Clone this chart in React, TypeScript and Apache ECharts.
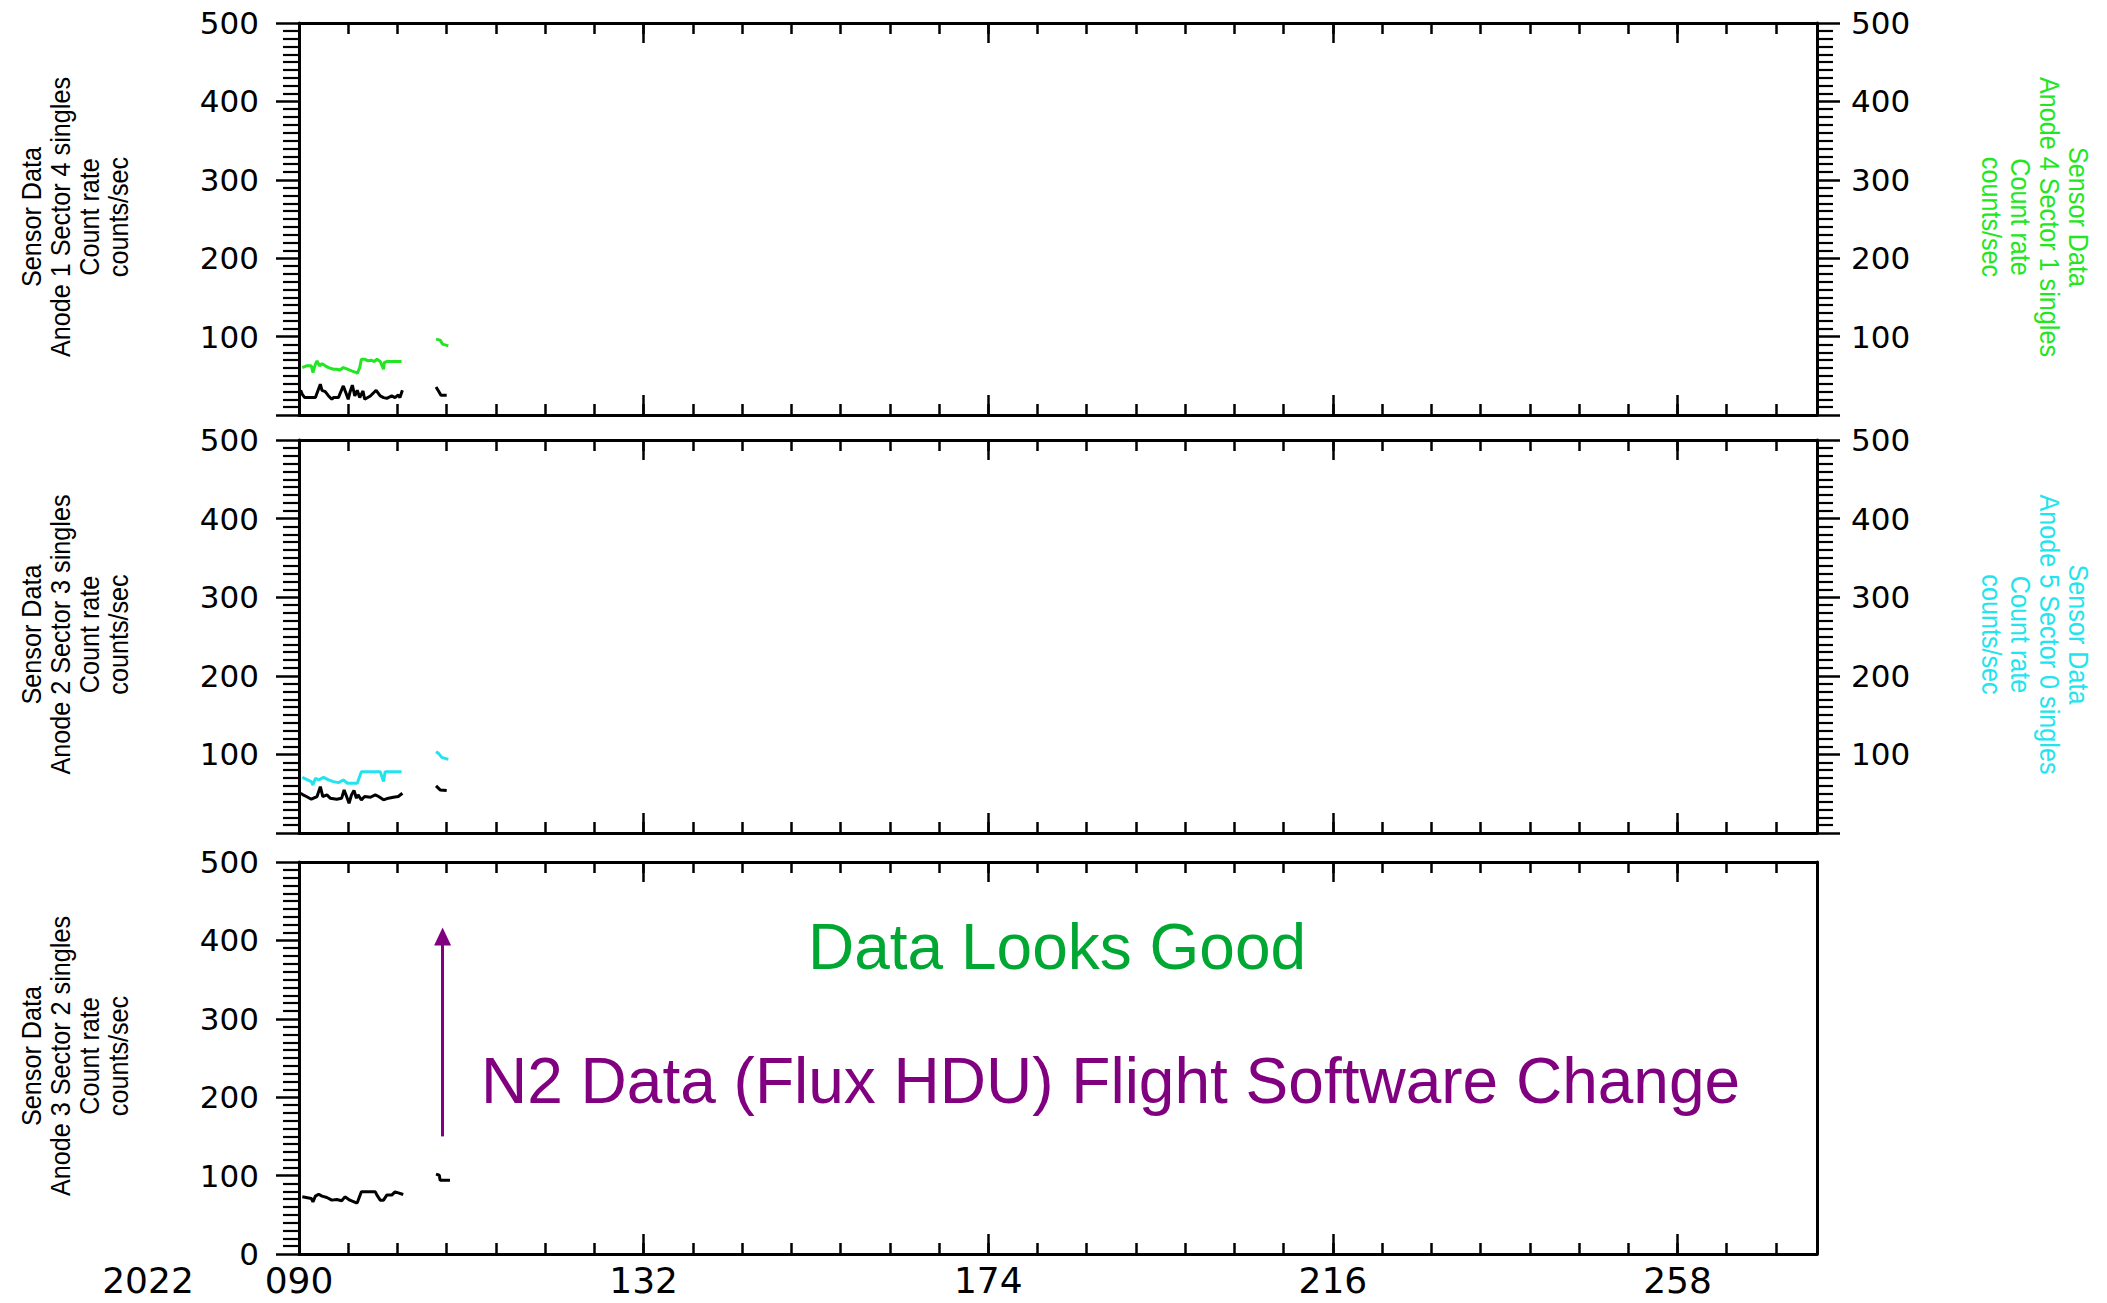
import React, { useEffect, useRef } from "react";
import * as echarts from "echarts";

// Day-of-year range shown on every panel (2022)
const DAY_MIN = 90;
const DAY_MAX = 275;
const MINOR_DAY_STEP = 6;
const majorDays = [90, 132, 174, 216, 258];
const yearLabel = "2022";

const RATE_MIN = 0;
const RATE_MAX = 500;
const RATE_STEP = 100;

// Panel 1: Anode 1 Sector 4 singles (left axis, black)
const a1s4Days = [90.2, 90.4, 90.7, 91.5, 92.0, 92.6, 92.8, 93.2, 93.6, 94.0, 94.2, 94.8, 95.4, 95.7, 96.0, 96.2, 96.5, 96.8, 97.1, 97.4, 97.8, 98.0, 98.7, 99.4, 99.9, 100.3, 100.7, 101.3, 101.7, 102.1, 102.3, 102.6, 104.5, 106.7, 107.0, 107.3, 108.0];
const a1s4Rate = [31.5, 26.4, 22.2, 22.2, 22.2, 39.2, 31.5, 29.8, 24.3, 20.0, 22.2, 22.2, 37.1, 28.6, 20.0, 28.6, 38.0, 24.3, 31.5, 22.2, 30.7, 20.0, 24.3, 31.5, 24.3, 22.2, 21.3, 24.3, 22.2, 25.6, 22.2, 31.5, null, 35.8, 30.7, 25.1, 25.1];

// Panel 1: Anode 4 Sector 1 singles (right axis, green)
const a4s1Days = [90.4, 90.9, 91.5, 91.7, 92.0, 92.2, 92.5, 92.8, 93.2, 93.6, 94.2, 94.6, 95.0, 95.4, 95.9, 96.4, 97.0, 97.1, 97.4, 97.6, 98.0, 98.4, 98.8, 99.2, 99.5, 99.9, 100.3, 100.4, 100.7, 102.5, 104.5, 106.7, 107.2, 107.5, 108.2];
const a4s1Rate = [60.5, 62.7, 62.7, 54.1, 64.8, 69.1, 62.7, 65.5, 62.7, 60.5, 58.4, 58.4, 57.4, 60.5, 58.4, 56.3, 54.1, 52.9, 60.5, 71.2, 71.2, 69.1, 69.9, 68.2, 71.2, 68.2, 58.4, 67.0, 68.2, 68.2, null, 96.8, 95.5, 90.4, 88.2];

// Panel 2: Anode 2 Sector 3 singles (left axis, black)
const a2s3Days = [90.2, 90.5, 90.9, 91.5, 92.2, 92.6, 92.9, 93.4, 93.8, 94.6, 95.2, 95.5, 95.8, 96.1, 96.4, 96.7, 97.0, 97.2, 97.6, 98.0, 98.7, 99.3, 99.7, 100.3, 100.9, 101.5, 102.1, 102.6, 104.5, 106.7, 107.2, 108.0];
const a2s3Rate = [50.6, 48.5, 46.4, 43.0, 46.4, 59.0, 46.4, 48.5, 44.3, 43.0, 44.3, 54.8, 46.4, 37.9, 48.5, 54.0, 44.3, 48.5, 42.2, 46.4, 45.5, 48.5, 46.4, 42.2, 44.3, 45.5, 46.4, 50.6, null, 59.9, 54.8, 54.0];

// Panel 2: Anode 5 Sector 0 singles (right axis, cyan)
const a5s0Days = [90.4, 91.5, 91.7, 92.0, 92.4, 93.0, 93.6, 94.2, 94.8, 95.4, 95.9, 97.1, 97.6, 98.7, 99.9, 100.3, 100.5, 102.5, 104.5, 106.7, 107.0, 107.4, 108.2];
const a5s0Rate = [70.8, 65.4, 61.1, 69.6, 67.5, 70.8, 67.5, 65.4, 64.1, 67.5, 63.3, 63.3, 78.0, 78.0, 78.0, 65.4, 78.0, 78.0, null, 103.3, 101.3, 96.2, 93.7];

// Panel 3: Anode 3 Sector 2 singles (left axis, black)
const a3s2Days = [90.4, 91.5, 91.7, 92.0, 92.4, 92.8, 93.4, 94.0, 94.6, 95.2, 95.6, 96.2, 97.0, 97.1, 97.6, 98.7, 99.3, 99.5, 99.9, 100.3, 100.7, 101.3, 101.7, 102.1, 102.7, 104.5, 106.7, 107.1, 107.2, 108.4];
const a3s2Rate = [72.9, 70.8, 66.6, 73.8, 76.3, 73.8, 72.1, 68.7, 69.6, 67.9, 72.9, 68.7, 65.3, 65.3, 79.3, 79.3, 79.3, 75.1, 68.7, 68.7, 75.1, 75.1, 79.3, 78.0, 75.9, null, 101.8, 100.5, 94.1, 94.1];

// Flight software change marker (day, arrow from / to count rate)
const changeDay = 107.5;
const changeArrow = [150, 405];

const leftTitles = [
  "Sensor Data\nAnode 1 Sector 4 singles\nCount rate\ncounts/sec",
  "Sensor Data\nAnode 2 Sector 3 singles\nCount rate\ncounts/sec",
  "Sensor Data\nAnode 3 Sector 2 singles\nCount rate\ncounts/sec",
];
const rightTitles = [
  "Sensor Data\nAnode 4 Sector 1 singles\nCount rate\ncounts/sec",
  "Sensor Data\nAnode 5 Sector 0 singles\nCount rate\ncounts/sec",
];
const noteGood = "Data Looks Good";
const noteChange = "N2 Data (Flux HDU) Flight Software Change";

const BLACK = "#000000";
const GREEN = "#22e622";
const CYAN = "#22e4ee";
const NOTE_GREEN = "#00a833";
const PURPLE = "#800080";
const NUM_FONT = "DejaVu Sans";
const TEXT_FONT = "Liberation Sans";

const W = 2107;
const H = 1303;
const PLOT_LEFT = 299;
const PLOT_RIGHT = 1817;
const panels = [
  { top: 23, height: 392 },
  { top: 440, height: 393 },
  { top: 862, height: 392 },
];

function zip(days: number[], rates: (number | null)[]) {
  return days.map((d, i) => [d, rates[i] === null ? null : rates[i]]);
}

const axisLineStyle = { color: BLACK, width: 3 };
const tickStyle = { color: BLACK, width: 2.5 };

function xAxesFor(grid: number, labelled: boolean) {
  const base = {
    type: "value",
    gridIndex: grid,
    min: DAY_MIN,
    max: DAY_MAX,
    splitLine: { show: false },
  };
  const minor = (position: string) => ({
    ...base,
    position,
    interval: MINOR_DAY_STEP,
    axisLine: { show: true, onZero: false, lineStyle: axisLineStyle },
    axisTick: { show: true, inside: true, length: 11, lineStyle: tickStyle },
    axisLabel: { show: false },
  });
  const major = (position: string, withLabels: boolean) => ({
    ...base,
    position,
    axisLine: { show: false, onZero: false },
    axisTick: {
      show: true,
      inside: true,
      length: 20,
      customValues: majorDays,
      lineStyle: tickStyle,
    },
    axisLabel: withLabels
      ? {
          show: true,
          customValues: majorDays,
          formatter: (v: number) => String(Math.round(v)).padStart(3, "0"),
          fontFamily: NUM_FONT,
          fontSize: 36,
          lineHeight: 32,
          color: BLACK,
          margin: 10,
        }
      : { show: false },
  });
  return [minor("bottom"), major("bottom", labelled), minor("top"), major("top", false)];
}

function yAxesFor(grid: number, rightSide: boolean, showZero: boolean) {
  const base = {
    type: "value",
    gridIndex: grid,
    min: RATE_MIN,
    max: RATE_MAX,
    interval: RATE_STEP,
    splitLine: { show: false },
  };
  const labelled = (position: string, margin: number) => ({
    ...base,
    position,
    axisLine: { show: true, onZero: false, lineStyle: axisLineStyle },
    axisTick: { show: true, inside: false, length: 23, lineStyle: tickStyle },
    minorTick: { show: true, splitNumber: 10, length: 16, lineStyle: { color: BLACK, width: 2.2 } },
    axisLabel: {
      show: true,
      showMinLabel: position === "left" ? showZero : false,
      fontFamily: NUM_FONT,
      fontSize: 31,
      color: BLACK,
      margin,
    },
  });
  const left = labelled("left", 40);
  const right = rightSide
    ? labelled("right", 34)
    : {
        ...base,
        position: "right",
        axisLine: { show: true, onZero: false, lineStyle: axisLineStyle },
        axisTick: { show: false },
        minorTick: { show: false },
        axisLabel: { show: false },
      };
  return [left, right];
}

function lineSeries(name: string, data: any[], color: string, xAxisIndex: number, yAxisIndex: number, extra: any = {}) {
  return {
    name,
    type: "line",
    xAxisIndex,
    yAxisIndex,
    data,
    showSymbol: false,
    connectNulls: false,
    lineStyle: { color, width: 3 },
    itemStyle: { color },
    z: 3,
    ...extra,
  };
}

function titleText(text: string, x: number, y: number, color: string, rotation: number) {
  return {
    type: "text",
    x,
    y,
    rotation,
    scaleX: 0.9,
    style: {
      text,
      fill: color,
      fontFamily: TEXT_FONT,
      fontSize: 28,
      lineHeight: 29,
      align: "center",
      verticalAlign: "middle",
    },
  };
}

export default function App() {
  const ref = useRef<HTMLDivElement>(null);

  useEffect(() => {
    if (!ref.current) return;
    const chart = echarts.init(ref.current, undefined, { renderer: "svg", width: W, height: H });

    const grids = panels.map((p) => ({
      left: PLOT_LEFT,
      right: W - PLOT_RIGHT,
      top: p.top,
      height: p.height,
      containLabel: false,
    }));

    const xAxis = [...xAxesFor(0, false), ...xAxesFor(1, false), ...xAxesFor(2, true)];
    const yAxis = [...yAxesFor(0, true, false), ...yAxesFor(1, true, false), ...yAxesFor(2, false, true)];

    const series = [
      lineSeries("Anode 1 Sector 4", zip(a1s4Days, a1s4Rate), BLACK, 0, 0),
      lineSeries("Anode 4 Sector 1", zip(a4s1Days, a4s1Rate), GREEN, 0, 1),
      lineSeries("Anode 2 Sector 3", zip(a2s3Days, a2s3Rate), BLACK, 4, 2),
      lineSeries("Anode 5 Sector 0", zip(a5s0Days, a5s0Rate), CYAN, 4, 3),
      lineSeries("Anode 3 Sector 2", zip(a3s2Days, a3s2Rate), BLACK, 8, 4, {
        markLine: {
          silent: true,
          animation: false,
          symbol: ["none", "triangle"],
          symbolSize: [17, 18],
          label: { show: false },
          lineStyle: { color: PURPLE, width: 3, type: "solid" },
          itemStyle: { color: PURPLE },
          data: [[{ coord: [changeDay, changeArrow[0]] }, { coord: [changeDay, changeArrow[1]] }]],
        },
      }),
    ];

    const centers = panels.map((p) => p.top + p.height / 2 - 2);

    const graphic: any[] = [
      ...leftTitles.map((t, i) => titleText(t, 75, centers[i], BLACK, Math.PI / 2)),
      titleText(rightTitles[0], 2035, centers[0], GREEN, -Math.PI / 2),
      titleText(rightTitles[1], 2035, centers[1], CYAN, -Math.PI / 2),
      {
        type: "text",
        x: 148,
        y: 1280,
        style: {
          text: yearLabel,
          fill: BLACK,
          fontFamily: NUM_FONT,
          fontSize: 36,
          lineHeight: 32,
          align: "center",
          verticalAlign: "middle",
        },
      },
      {
        type: "text",
        x: 808,
        y: 947,
        style: {
          text: noteGood,
          fill: NOTE_GREEN,
          fontFamily: TEXT_FONT,
          fontSize: 64,
          align: "left",
          verticalAlign: "middle",
        },
      },
      {
        type: "text",
        x: 481,
        y: 1081,
        style: {
          text: noteChange,
          fill: PURPLE,
          fontFamily: TEXT_FONT,
          fontSize: 64,
          align: "left",
          verticalAlign: "middle",
        },
      },
    ];

    chart.setOption({
      animation: false,
      backgroundColor: "#ffffff",
      grid: grids,
      xAxis,
      yAxis,
      series,
      graphic,
    });

    return () => {
      chart.dispose();
    };
  }, []);

  return (
    <div
      ref={ref}
      style={{ position: "absolute", left: 0, top: 0, width: W, height: H, background: "#ffffff" }}
    />
  );
}
